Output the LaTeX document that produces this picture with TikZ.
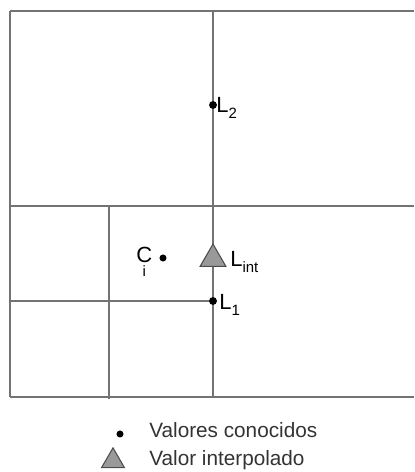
\documentclass[tikz,border=0pt]{standalone}
\usepackage{fontspec}
\setmainfont{Liberation Sans}
\usetikzlibrary{shapes.geometric, positioning}
\tikzset{
    grid line/.style={draw=black!55, line width=1.1pt},
    known/.style={circle, fill=black, inner sep=0pt, minimum size=4.5pt},
    interp/.style={regular polygon, regular polygon sides=3, draw=black!70, fill=black!40, inner sep=0pt, minimum size=17pt, line width=0.6pt},
    lbl/.style={font=\fontsize{12.5}{14}\selectfont, inner sep=0pt},
    legend/.style={font=\fontsize{11.8}{14}\selectfont, inner sep=0pt, anchor=west, text=black!80}
}
\newcommand{\lsub}[1]{\raisebox{-3pt}{\fontsize{8.5}{9}\selectfont #1}}

\begin{document}
\begin{tikzpicture}[x=0.02cm, y=-0.02cm]
    \useasboundingbox (0,0) rectangle (414,472);

    % cells
    \draw [grid line] (10,11) -- (414,11);
    \draw [grid line] (10,11) -- (10,397);
    \draw [grid line] (10,397) -- (414,397);
    \draw [grid line] (213,11) -- (213,397);
    \draw [grid line] (10,206) -- (414,206);
    \draw [grid line] (109,206) -- (109,399);
    \draw [grid line] (10,301) -- (213,301);

    % points
    \node (l2) [known] at (213,105) {};
    \node (l1) [known] at (213,301) {};
    \node (ci) [known, minimum size=4pt] at (163,258) {};
    \node (lint) [interp] at (213,259) {};

    \node (l2txt) [lbl, anchor=west] at (216,108) {L\lsub{2}};
    \node (l1txt) [lbl, anchor=west] at (219,305) {L\lsub{1}};
    \node (linttxt) [lbl, anchor=west] at (230,262) {L\lsub{int}};
    \node (citxt) [lbl, anchor=west] at (136,262) {C\hspace{-5.5pt}\raisebox{-8pt}{\fontsize{8.5}{9}\selectfont i}};

    % legend
    \node (kdot) [known, minimum size=4pt] at (120,434) {};
    \node (kleg) [legend] at (149,430) {Valores conocidos};
    \node (itri) [interp, minimum size=15pt] at (113,461) {};
    \node (ileg) [legend] at (149,460) {Valor interpolado};
\end{tikzpicture}
\end{document}
